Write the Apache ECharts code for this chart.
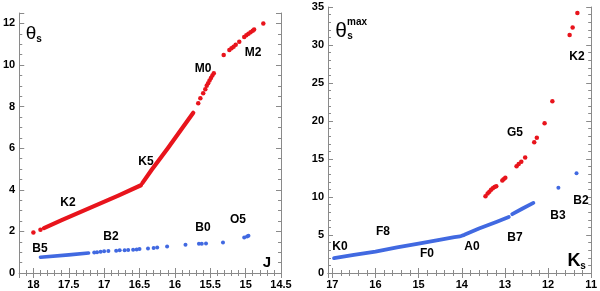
<!DOCTYPE html>
<html><head><meta charset="utf-8">
<script src="https://cdn.jsdelivr.net/npm/echarts@6/dist/echarts.min.js"></script>
<style>html,body{margin:0;padding:0;background:#fff}#c{width:600px;height:291px}</style>
</head><body><div id="c"></div>
<script>
// ---------- Left panel (J vs theta_s) ----------
const leftRedRuns = [
  [[17.85,2.16],[17.6,2.54],[17.2,3.13],[16.8,3.72],[16.48,4.22]],
  [[16.46,4.32],[16.33,4.95],[16.1,6.0],[15.9,6.95],[15.74,7.7]]
];
const leftRedDots = [[18.0,1.95],[17.9,2.08],[15.67,8.16],[15.64,8.4],[15.6,8.64],[15.57,8.83],[15.55,9.0],[15.53,9.12],[15.51,9.26],[15.49,9.38],[15.47,9.5],[15.45,9.6],
  [15.31,10.48],[15.23,10.72],[15.2,10.8],[15.17,10.88],[15.14,10.97],[15.09,11.12],[15.02,11.35],[14.99,11.43],[14.96,11.5],[14.93,11.58],[14.9,11.65],[14.88,11.71],[14.75,12.0]];
const leftBlueRuns = [
  [[17.9,0.76],[17.5,0.87],[17.22,0.96]]
];
const leftBlueDots = [[17.14,0.99],[17.1,1.0],[17.05,1.02],[17.0,1.04],[16.94,1.06],[16.83,1.07],[16.78,1.09],[16.71,1.09],[16.66,1.1],[16.59,1.12],[16.54,1.13],[16.5,1.15],
  [16.38,1.18],[16.3,1.2],[16.25,1.22],[16.11,1.28],[15.85,1.36],[15.66,1.41],[15.62,1.41],[15.56,1.42],[15.32,1.47],[15.02,1.71],[14.98,1.75],[14.96,1.79]];
const leftXTicks = {min:14.5, max:18.2, major:0.5, minor:0.1};
const leftYTicks = {min:0, max:12.5, major:2, minor:0.5};
const leftLabels = [['K2',68,203],['K5',146,162],['M0',203,69],['M2',253,53],['B5',40,249],['B2',111,237],['B0',203,228],['O5',238,220]];

// ---------- Right panel (Ks vs theta_s^max) ----------
const rightBlueRuns = [
  [[16.96,1.96],[16.5,2.38],[16.0,2.82],[15.5,3.36],[15.0,3.87],[14.55,4.34],[14.17,4.72],[14.04,4.82]],
  [[14.0,4.9],[13.94,5.02],[13.6,5.85],[13.2,6.72],[12.91,7.38]],
  [[12.83,7.74],[12.6,8.45],[12.34,9.22]]
];
const rightBlueDots = [[11.76,11.23],[11.34,13.13]];
const rightRedDots = [[13.45,10.09],[13.4,10.45],[13.36,10.7],[13.32,10.95],[13.28,11.15],[13.24,11.3],[13.2,11.42],[13.06,12.18],[13.03,12.35],[12.99,12.53],
  [12.73,14.05],[12.68,14.35],[12.62,14.65],[12.53,15.2],[12.32,17.2],[12.26,17.8],[12.08,19.7],[11.9,22.6],[11.5,31.3],[11.43,32.3],[11.32,34.2]];
const rightXTicks = {min:11, max:17.1, major:1, minor:0.2};
const rightYTicks = {min:0, max:35, major:5, minor:1};
const rightLabels = [['K2',577,57],['G5',515,133],['B2',581,201],['B3',558,216],['B7',515,238],['A0',472,247],['F0',427,254],['F8',383,232],['K0',340,247]];

const RED = '#e8141c', BLUE = '#4169e1', FRAME = '#8a8a8a';
const FONT = '"Liberation Sans", Arial, sans-serif';

function mkAxes(kind, grid, t, inverse) {
  const isX = kind === 'x';
  const sides = isX ? ['bottom','top'] : ['left','right'];
  const out = [];
  sides.forEach((pos, si) => {
    [t.major, t.minor].forEach((iv, mi) => {
      out.push({
        type:'value', gridIndex:grid, position:pos, min:t.min, max:t.max, interval:iv, inverse:inverse,
        axisLine:{show: mi===0, lineStyle:{color:FRAME, width:1}},
        axisTick:{show:true, inside:true, length: mi===0 ? 5 : 3, lineStyle:{color:FRAME, width:1}},
        axisLabel:{show: si===0 && mi===0, color:'#000', fontWeight:'bold', fontSize:11, fontFamily:FONT,
          margin: isX ? 6 : 4,
          formatter: v => { const r = v / t.major; return Math.abs(r - Math.round(r)) < 1e-6 ? String(+v.toFixed(2)) : ''; }},
        splitLine:{show:false}
      });
    });
  });
  return out;
}

const xAxes = [...mkAxes('x',0,leftXTicks,true), ...mkAxes('x',1,rightXTicks,true)];
const yAxes = [...mkAxes('y',0,leftYTicks,false), ...mkAxes('y',1,rightYTicks,false)];

const series = [];
function runs(list, color, w, xi, yi) {
  list.forEach(d => series.push({type:'line', xAxisIndex:xi, yAxisIndex:yi, data:d, symbol:'none', silent:true,
    lineStyle:{color:color, width:w, cap:'round', join:'round', opacity:1}, z:3}));
}
function dots(d, color, s, xi, yi) {
  series.push({type:'scatter', xAxisIndex:xi, yAxisIndex:yi, data:d, symbolSize:s, itemStyle:{color:color, opacity:1}, silent:true, z:4});
}
runs(leftRedRuns, RED, 4.2, 0, 0);
dots(leftRedDots, RED, 4.5, 0, 0);
runs(leftBlueRuns, BLUE, 3.6, 0, 0);
dots(leftBlueDots, BLUE, 4, 0, 0);
runs(rightBlueRuns, BLUE, 3.8, 4, 4);
dots(rightBlueDots, BLUE, 4, 4, 4);
dots(rightRedDots, RED, 4.5, 4, 4);

const graphics = [];
function txt(s, x, y, size, weight, align) {
  graphics.push({type:'text', x:x, y:y, silent:true, z:10,
    style:{text:s, fill:'#000', font:(weight||'bold')+' '+size+'px '+FONT, textAlign:align||'center', textVerticalAlign:'middle'}});
}
leftLabels.forEach(l => txt(l[0], l[1], l[2], 12));
rightLabels.forEach(l => txt(l[0], l[1], l[2], 12));
txt('θ', 31, 34, 19, 'normal');
txt('s', 39, 39.5, 10);
txt('J', 267, 263, 15);
txt('θ', 341, 31, 21, 'normal');
txt('s', 350, 36.5, 10);
txt('max', 357, 22.5, 10);
txt('K', 574, 261, 18);
txt('s', 583, 266.5, 10);

const chart = echarts.init(document.getElementById('c'), null, {renderer:'canvas'});
chart.setOption({
  animation:false,
  backgroundColor:'#fff',
  grid:[{left:19, top:13, width:262, height:260},{left:328, top:7, width:267, height:266}],
  xAxis:xAxes, yAxis:yAxes, series:series, graphic:graphics
});
</script></body></html>
